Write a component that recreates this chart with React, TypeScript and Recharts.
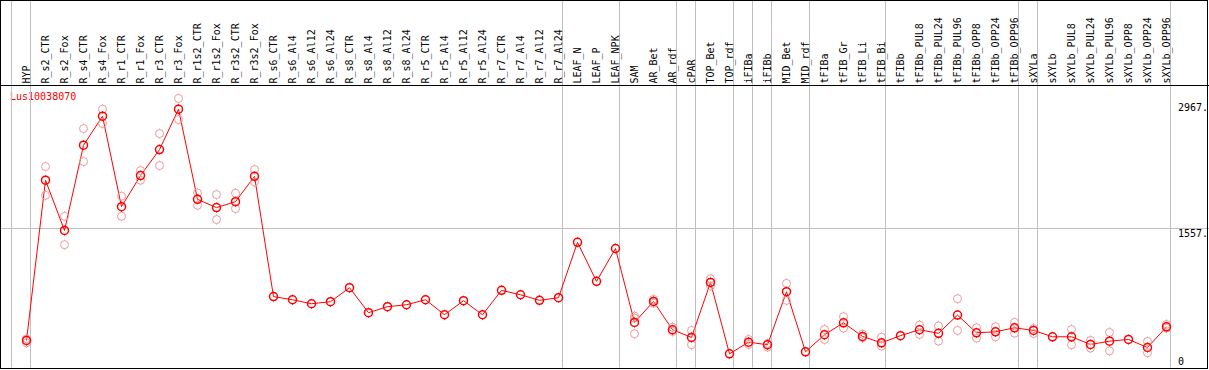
import React from "react";
import { ComposedChart, Line, XAxis, YAxis, ReferenceLine } from "recharts";

const categories = [
  "HYP", "R_s2_CTR", "R_s2_Fox", "R_s4_CTR", "R_s4_Fox", "R_r1_CTR", "R_r1_Fox", "R_r3_CTR", "R_r3_Fox",
  "R_r1s2_CTR", "R_r1s2_Fox", "R_r3s2_CTR", "R_r3s2_Fox", "R_s6_CTR", "R_s6_Al4", "R_s6_Al12", "R_s6_Al24",
  "R_s8_CTR", "R_s8_Al4", "R_s8_Al12", "R_s8_Al24", "R_r5_CTR", "R_r5_Al4", "R_r5_Al12", "R_r5_Al24",
  "R_r7_CTR", "R_r7_Al4", "R_r7_Al12", "R_r7_Al24", "LEAF_N", "LEAF_P", "LEAF_NPK", "SAM", "AR_Bet", "AR_rdf",
  "cPAR", "TOP_Bet", "TOP_rdf", "iFIBa", "iFIBb", "MID_Bet", "MID_rdf", "tFIBa", "tFIB_Gr", "tFIB_Li", "tFIB_Bi",
  "tFIBb", "tFIBb_PUL8", "tFIBb_PUL24", "tFIBb_PUL96", "tFIBb_OPP8", "tFIBb_OPP24", "tFIBb_OPP96", "sXYLa",
  "sXYLb", "sXYLb_PUL8", "sXYLb_PUL24", "sXYLb_PUL96", "sXYLb_OPP8", "sXYLb_OPP24", "sXYLb_OPP96",
];

const meanValues = [
  303, 2098, 1535, 2490, 2815, 1802, 2150, 2441, 2894, 1884, 1791, 1858, 2142,
  794, 759, 714, 737, 894, 614, 681, 703, 759, 591, 748, 591, 864, 815, 752, 782,
  1402, 965, 1333, 505, 740, 423, 337, 953, 153, 284, 255, 849, 176,
  367, 501, 348, 277, 357, 423, 383, 587, 389, 400, 445, 415, 344, 344, 258, 295, 314, 224, 456,
];

const repHigh = [
  322, 2251, 1694, 2677, 2894, 1918, 2206, 2621, 3014, 1955, 1937, 1952, 2217,
  null, null, null, null, null, null, null, null, null, null, null, null, null, null, null, null,
  null, null, null, 576, 763, 452, 415, 995, null, 314, 269, 942, null,
  426, 569, 374, 340, null, 475, 465, 771, 445, 456, 505, 437, null, 426, 303, 393, null, 292, 482,
];

const repLow = [
  277, 1929, 1376, 2307, 2733, 1694, 2098, 2262, 2778, 1817, 1657, 1780, 2079,
  null, null, null, null, null, null, null, null, null, null, null, null, null, null, null, null,
  null, null, null, 378, 721, 404, 255, 912, null, 258, 228, 752, null,
  314, 441, 333, 239, null, 370, 295, 415, 329, 344, 385, 381, null, 255, 217, 187, null, 165, 441,
];

const repExtra = [
  null, null, null, null, null, null, null, null, null, null, null, null, null,
  null, null, null, null, null, null, null, null, null, null, null, null, null, null, null, null,
  null, null, null, 553, null, null, null, null, null, null, null, null, null,
  null, null, null, null, null, null, null, null, null, null, null, null, null, null, null, null, null, null, null,
];

const yTicks = [0, 1557, 2967];
const gridValues = [1557];
const separatorsAfter = [-1, 0, 28, 31, 34, 35, 37, 38, 39, 41, 45, 52, 53, 60];
const geneName = "Lus10038070";

const data = categories.map((name, i) => ({
  idx: i,
  name,
  mean: meanValues[i],
  repA: repHigh[i],
  repB: repLow[i],
  repC: repExtra[i],
}));

const W = 1209;
const H = 370;
const HEADER_H = 85;
const STEP = 19;
const FIRST_X = 26.5;
const X_MIN = -FIRST_X / STEP;
const X_MAX = X_MIN + W / STEP;
const SEP_OFFSET = 4 / STEP;
const Y_MAX = 3159;
const FONT = "'DejaVu Sans Mono', monospace";
const RED = "#ff0000";
const PINK = "#eb9b9b";
const GRAY = "#c0c0c0";

const makeDot = (color: string, sw: number) => (props: any) => {
  const { cx, cy, value, index } = props;
  if (value == null || cy == null || cx == null || Number.isNaN(cy)) return <g key={`e-${index}`} />;
  const r = 4;
  return (
    <g key={`d-${index}`}>
      <circle cx={cx} cy={cy} r={r} fill="none" stroke={color} strokeWidth={sw} />
      <line x1={cx} x2={cx} y1={cy - r - 1} y2={cy - r} stroke={color} strokeWidth={1} />
      <line x1={cx} x2={cx} y1={cy + r} y2={cy + r + 1} stroke={color} strokeWidth={1} />
    </g>
  );
};

const HeaderTick = (props: any) => {
  const { x, y, payload } = props;
  const label = categories[payload.value];
  if (label == null) return <g />;
  const tx = x + 3;
  const ty = y;
  return (
    <text
      x={tx}
      y={ty}
      transform={`rotate(-90, ${tx}, ${ty})`}
      textAnchor="start"
      fontFamily={FONT}
      fontSize={10}
      fill="#000"
    >
      {label}
    </text>
  );
};

const RightLabel = (props: any) => {
  const { viewBox, value } = props;
  if (!viewBox) return null;
  const right = viewBox.x + viewBox.width;
  const base = Math.min(viewBox.y + 8.5, H - 5);
  return (
    <text x={right - 31} y={base} textAnchor="start" fontFamily={FONT} fontSize={10} fill="#000">
      {value === 0 ? "0" : `${value}.`}
    </text>
  );
};

const SepLine = (props: any) => {
  const { x1, x2, y1, y2 } = props;
  const top = Math.min(y1, y2) - HEADER_H;
  const bottom = Math.max(y1, y2);
  return <line x1={x1} x2={x2} y1={top} y2={bottom} stroke={GRAY} strokeWidth={1} />;
};

export default function App() {
  return (
    <div style={{ position: "absolute", left: 0, top: 0, width: W, height: H, background: "#fff" }}>
      <ComposedChart
        width={W}
        height={H}
        data={data}
        margin={{ top: 0.5, right: 0, left: 0, bottom: 2.5 }}
      >
        <XAxis
          dataKey="idx"
          type="number"
          orientation="top"
          height={HEADER_H}
          domain={[X_MIN, X_MAX]}
          allowDataOverflow
          ticks={categories.map((_, i) => i)}
          interval={0}
          tick={<HeaderTick />}
          tickLine={false}
          tickSize={0}
          tickMargin={2}
          axisLine={{ stroke: "#000", strokeWidth: 1 }}
        />
        <YAxis
          type="number"
          orientation="right"
          width={0}
          domain={[0, Y_MAX]}
          allowDataOverflow
          ticks={yTicks}
          tick={false}
          tickLine={false}
          axisLine={false}
        />
        {gridValues.map((v) => (
          <ReferenceLine key={`grid-${v}`} y={v} stroke={GRAY} strokeWidth={1} />
        ))}
        {yTicks.map((v) => (
          <ReferenceLine
            key={`lab-${v}`}
            y={v}
            stroke="none"
            label={<RightLabel value={v} />}
          />
        ))}
        {separatorsAfter.map((b) => (
          <ReferenceLine key={`sep-${b}`} x={b + SEP_OFFSET} stroke={GRAY} shape={<SepLine />} />
        ))}
        <Line dataKey="repA" stroke="none" dot={makeDot(PINK, 1)} activeDot={false} isAnimationActive={false} connectNulls={false} />
        <Line dataKey="repB" stroke="none" dot={makeDot(PINK, 1)} activeDot={false} isAnimationActive={false} connectNulls={false} />
        <Line dataKey="repC" stroke="none" dot={makeDot(PINK, 1)} activeDot={false} isAnimationActive={false} connectNulls={false} />
        <Line dataKey="mean" stroke={RED} strokeWidth={1} dot={makeDot(RED, 1.5)} activeDot={false} isAnimationActive={false} />
        <text x={10} y={99.5} fontFamily={FONT} fontSize={10} fill={RED}>
          {geneName}
        </text>
      </ComposedChart>
      <div
        style={{
          position: "absolute",
          left: 0,
          top: 0,
          width: W - 1,
          height: H - 1,
          boxSizing: "border-box",
          border: "1px solid #000",
          pointerEvents: "none",
        }}
      />
    </div>
  );
}
